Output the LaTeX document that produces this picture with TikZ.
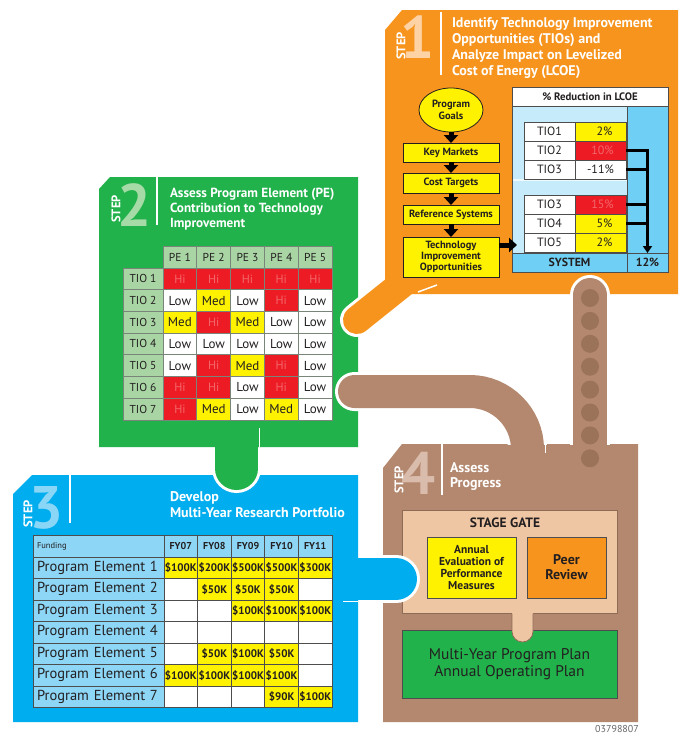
\documentclass[tikz,border=0pt]{standalone}
\usepackage{fontspec}
\setmainfont{PT Sans}
\usetikzlibrary{shapes.geometric,arrows.meta}

\definecolor{orng}{HTML}{F7941D}
\definecolor{grn}{HTML}{22B24C}
\definecolor{blu}{HTML}{00AEEF}
\definecolor{brn}{HTML}{B4886F}
\definecolor{brndot}{HTML}{9B7359}
\definecolor{tan}{HTML}{EFC6A3}
\definecolor{peach}{HTML}{FDD3A6}
\definecolor{mint}{HTML}{A6DBA8}
\definecolor{sky}{HTML}{8AD6F7}
\definecolor{mocha}{HTML}{D9BCAB}
\definecolor{yel}{HTML}{FFF200}
\definecolor{hired}{HTML}{ED1C24}
\definecolor{hitext}{HTML}{F2676B}
\definecolor{lgreen}{HTML}{A9D5A5}
\definecolor{lblue}{HTML}{8DD6F6}
\definecolor{paleblue}{HTML}{C6EBFA}
\definecolor{midblue}{HTML}{6FCFF4}
\definecolor{ink}{HTML}{231F20}
\definecolor{gridgray}{HTML}{7A857A}
\definecolor{edgegray}{HTML}{4D4D4D}
\definecolor{sgedge}{HTML}{8C6B57}

\begin{document}
\begin{tikzpicture}[x=1pt,y=-1pt,
  every node/.style={inner sep=0pt,outer sep=0pt},
  paneltitle/.style 2 args={anchor=north west,align=left,text=white,font=\bfseries\fontsize{#1}{#2}\selectfont},
  steplbl/.style={rotate=90,text=white,font=\bfseries\fontsize{12.5}{12.5}\selectfont},
  stepnum/.style={font=\bfseries\fontsize{60}{60}\selectfont,text height=43pt,text depth=0pt},
  sep/.style={white,line width=1.5pt},
  box4/.style={draw=edgegray,line width=0.8pt,align=center,text=ink},
  fbox/.style={draw=ink,fill=yel,line width=0.8pt,minimum width=96pt,align=center,text=ink,font=\bfseries\fontsize{10.5}{11}\selectfont},
  fat/.style={line width=5pt,black,-{Triangle[width=14pt,length=8pt]}},
  coll/.style={line width=2.2pt,black},
  tb/.style={draw=edgegray,line width=0.8pt,text=ink,font=\bfseries\fontsize{11.8}{11.8}\selectfont},
  tcell/.style={draw=edgegray,line width=0.8pt,minimum width=51pt,minimum height=19pt,text=ink,font=\fontsize{12}{12}\selectfont},
  gcell/.style={draw=gridgray,line width=0.8pt,minimum width=33.8pt,minimum height=21.7pt,text=ink,font=\fontsize{13}{13}\selectfont},
  cHi/.style={gcell,fill=hired,text=hitext,font=\fontsize{12}{12}\selectfont,node contents=Hi},
  cMed/.style={gcell,fill=yel,node contents=Med},
  cLow/.style={gcell,fill=white,node contents=Low},
  s3lab/.style={draw=edgegray,line width=0.8pt,fill=lblue,minimum width=131pt,text width=123pt,align=left,text=ink},
  s3cell/.style={draw=edgegray,line width=0.8pt,minimum width=33.6pt,minimum height=21.5pt,text=ink,font=\bfseries\fontsize{11}{11}\selectfont},
  fy/.style={fill=yel},
  fw/.style={fill=white}]

\useasboundingbox (0,0) rectangle (678,734);
\fill[white] (0,0) rectangle (678,734);

% ================= Step 4: assess progress =================
\fill[brn] (402,444) -- (638,444) -- (638,722) -- (383,722) -- (383,468) -- cycle;
\node[stepnum,text=mocha] (n4) at (418.5,472.5) {4};
\node[steplbl] (s4) at (399,480) {STEP};
\draw[sep] (442,444) -- (442,495);
\node[paneltitle={14}{15}] (t4) at (450,463) {Assess\\Progress};

\node[draw=sgedge,fill=tan,line width=0.8pt,minimum width=215pt,minimum height=103pt] (gate) at (509.5,561.5) {};
\node[font=\bfseries\fontsize{13.5}{13.5}\selectfont,text=ink] (gatelbl) at (505,522.5) {STAGE GATE};
\node[box4,fill=yel,minimum width=89pt,minimum height=61pt,font=\bfseries\fontsize{11.5}{12.3}\selectfont] (annual) at (471.5,567.5) {Annual\\Evaluation of\\Performance\\Measures};
\node[box4,fill=orng,minimum width=79pt,minimum height=61pt,font=\bfseries\fontsize{14}{15}\selectfont] (peer) at (566.5,567.5) {Peer\\Review};
\node[box4,fill=grn,minimum width=215pt,minimum height=68pt,font=\fontsize{15.5}{17.5}\selectfont] (plan) at (509.5,664) {Multi-Year Program Plan\\Annual Operating Plan};
% neck from the stage gate down into the plan box
\fill[tan] (512,611) -- (512,631.5) .. controls (512,637.3) and (516.7,642) .. (522.5,642)
  .. controls (528.3,642) and (533,637.3) .. (533,631.5) -- (533,611) -- cycle;
\draw[sgedge,line width=0.8pt] (512,613.5) -- (512,631.5) .. controls (512,637.3) and (516.7,642) .. (522.5,642)
  .. controls (528.3,642) and (533,637.3) .. (533,631.5) -- (533,613.5);
\node[text=gray!80!black,font=\fontsize{10}{10}\selectfont] (code) at (617,729) {03798807};

% ================= blue tab into stage gate =================
\begin{scope}
  \clip (358,0) rectangle (678,734);
  \draw[white,line width=48pt,line cap=round] (340,579) -- (396,579);
\end{scope}
\draw[blu,line width=42pt,line cap=round] (340,579) -- (396,579);

% ================= Step 3: research portfolio =================
\fill[blu] (32,475) -- (358,475) -- (358,722) -- (13,722) -- (13,494) -- cycle;
\draw[white,line width=1.5pt] (343,601.5) -- (358,601.5);
\node[stepnum,text=sky] (n3) at (46.5,507) {3};
\node[steplbl] (s3) at (28,514) {STEP};
\draw[sep] (70,475) -- (70,523);
\node[paneltitle={14}{16}] (t3) at (170,492) {Develop\\Multi-Year Research Portfolio};

\node[s3lab,minimum height=22pt,font=\fontsize{8.5}{8.5}\selectfont] (fund) at (98.5,546) {Funding};
\foreach \yr [count=\c] in {07,08,09,10,11}
  \node[s3cell,fill=lblue,minimum height=22pt,font=\bfseries\fontsize{10}{10}\selectfont] (fy\c) at ({180.8+33.6*(\c-1)},546) {FY\yr};
\foreach \row [count=\r] in {
  {y/\$100K,y/\$200K,y/\$500K,y/\$500K,y/\$300K},
  {w/,y/\$50K,y/\$50K,y/\$50K,w/},
  {w/,w/,y/\$100K,y/\$100K,y/\$100K},
  {w/,w/,w/,w/,w/},
  {w/,y/\$50K,y/\$100K,y/\$50K,w/},
  {y/\$100K,y/\$100K,y/\$100K,y/\$100K,w/},
  {w/,w/,w/,y/\$90K,y/\$100K}} {
  \node[s3lab,minimum height=21.5pt,font=\fontsize{14.5}{14.5}\selectfont] (pe\r) at (98.5,{567.75+21.5*(\r-1)}) {\mbox{Program Element \r}};
  \foreach \fl/\amt [count=\c] in \row
    \node[s3cell,f\fl] (pe\r-\c) at ({180.8+33.6*(\c-1)},{567.75+21.5*(\r-1)}) {\amt};
}

% ================= green tab into step 3 =================
\begin{scope}
  \clip (0,447) rectangle (678,734);
  \draw[white,line width=49pt,line cap=round] (236.5,440) -- (236.5,468.5);
\end{scope}
\draw[grn,line width=43pt,line cap=round] (236.5,440) -- (236.5,468.5);

% ================= Step 2: program element contribution =================
\fill[grn] (110,177) -- (358,177) -- (358,447) -- (99,447) -- (99,189) -- cycle;
\draw[white,line width=1.5pt] (259.5,428) -- (259.5,447);
\node[stepnum,text=mint] (n2) at (135,205) {2};
\node[steplbl] (s2) at (116,209) {STEP};
\draw[sep] (157,177) -- (157,225);
\node[paneltitle={13.2}{15}] (t2) at (170,188.5) {Assess Program Element (PE)\\Contribution to Technology\\Improvement};

\foreach \c in {1,...,5}
  \node[gcell,fill=lgreen,minimum height=22pt,font=\fontsize{11.5}{11.5}\selectfont] (peh\c) at ({179.9+33.8*(\c-1)},257) {PE \c};
\foreach \row [count=\r] in {
  {cHi,cHi,cHi,cHi,cHi},
  {cLow,cMed,cLow,cHi,cLow},
  {cMed,cHi,cMed,cLow,cLow},
  {cLow,cLow,cLow,cLow,cLow},
  {cLow,cHi,cMed,cHi,cLow},
  {cHi,cHi,cLow,cHi,cLow},
  {cHi,cMed,cLow,cMed,cLow}} {
  \node[gcell,fill=lgreen,minimum width=40pt,font=\fontsize{11.5}{11.5}\selectfont] (tio\r) at (143,{278.85+21.7*(\r-1)}) {TIO \r};
  \foreach \lv [count=\c] in \row
    \node (g\r-\c) at ({179.9+33.8*(\c-1)},{278.85+21.7*(\r-1)}) [\lv];
}

% ================= orange tab and brown return pipe =================
\begin{scope}
  \clip (0,0) -- (385,0) -- (385,294) -- (678,294) -- (678,734) -- (0,734) -- cycle;
  \draw[white,line width=34pt,line cap=round] (357,320) -- (412,276);
\end{scope}
\draw[orng,line width=28pt,line cap=round] (357,320) -- (412,276);

\begin{scope}
  \clip (0,0) rectangle (678,444);
  \draw[white,line width=39pt,line cap=round] (354.5,391.5) -- (470,391.5)
    .. controls (501.5,391.5) and (527.5,417.5) .. (527.5,449) -- (527.5,460);
\end{scope}
\draw[brn,line width=33pt,line cap=round] (354.5,391.5) -- (470,391.5)
  .. controls (501.5,391.5) and (527.5,417.5) .. (527.5,449) -- (527.5,460);
\draw[white,line width=1.5pt] (545.5,444) -- (545.5,453);

% ================= Step 1: TIOs and LCOE =================
\fill[orng] (402,10) -- (678,10) -- (678,294) -- (385,294) -- (385,30) -- cycle;
\draw[white,line width=1.5pt] (418,292) -- (437,285);
\node[stepnum,text=peach] (n1) at (417.5,36.5) {1};
\node[steplbl] (s1) at (401,46) {STEP};
\draw[sep] (441,12) -- (441,75);
\node[paneltitle={14}{16}] (t1) at (452,18) {Identify Technology Improvement\\Opportunities (TIOs) and\\Analyze Impact on Levelized\\Cost of Energy (LCOE)};

% flow of goals to opportunities
\node[ellipse,draw=ink,fill=yel,line width=0.8pt,minimum width=64pt,minimum height=44pt,align=center,text=ink,font=\bfseries\fontsize{10.5}{12}\selectfont] (goals) at (451,110) {Program\\Goals};
\node[fbox,minimum height=19pt] (km) at (451,152.5) {Key Markets};
\node[fbox,minimum height=20pt] (ct) at (451,183) {Cost Targets};
\node[fbox,minimum height=19pt] (rs) at (451,214.5) {Reference Systems};
\node[fbox,minimum height=40pt] (opp) at (451,257) {Technology\\Improvement\\Opportunities};
\draw[fat] (goals) -- (km);
\draw[fat] (km) -- (ct);
\draw[fat] (ct) -- (rs);
\draw[fat] (rs) -- (opp);

% LCOE reduction table
\node[tb,fill=white,minimum width=156pt,minimum height=19pt,font=\bfseries\fontsize{10.8}{10.8}\selectfont] (lhdr) at (590,96.5) {\% Reduction in LCOE};
\node[tb,fill=paleblue,minimum width=115pt,minimum height=147pt] (lbody) at (569.5,179.5) {};
\node[tb,fill=midblue,minimum width=41pt,minimum height=147pt] (rbody) at (647.5,179.5) {};
\node[tb,fill=midblue,minimum width=115pt,minimum height=19pt] (lsys) at (569.5,262.5) {SYSTEM};
\node[tb,fill=midblue,minimum width=41pt,minimum height=19pt] (rsys) at (647.5,262.5) {12\%};
\draw[white!70!paleblue,line width=1.2pt] (512.5,180) -- (626.5,180);

\node[tcell,fill=white] (l1) at (549.5,131.5) {TIO1};
\node[tcell,fill=yel] (v1) at (600.5,131.5) {\hspace{8pt}2\%};
\node[tcell,fill=white] (l2) at (549.5,150.5) {TIO2};
\node[tcell,fill=hired,text=hitext] (v2) at (600.5,150.5) {\hspace{4pt}10\%};
\node[tcell,fill=white] (l3) at (549.5,169.5) {TIO3};
\node[tcell,fill=white] (v3) at (600.5,169.5) {-11\%};
\node[tcell,fill=white] (l4) at (549.5,204.5) {TIO3};
\node[tcell,fill=hired,text=hitext] (v4) at (600.5,204.5) {\hspace{4pt}15\%};
\node[tcell,fill=white] (l5) at (549.5,223.5) {TIO4};
\node[tcell,fill=yel] (v5) at (600.5,223.5) {\hspace{8pt}5\%};
\node[tcell,fill=white] (l6) at (549.5,242.5) {TIO5};
\node[tcell,fill=yel] (v6) at (600.5,242.5) {\hspace{8pt}2\%};

\coordinate (oppin) at (517,245);
\draw[fat] (opp.east |- oppin) -- (oppin);

\draw[coll,-{Triangle[width=9pt,length=7pt]}] (v2.east) -- (v2.east -| rbody.center) -- (rsys.north);
\draw[coll] (v3.east) -- (v3.east -| rbody.center);
\draw[coll] (v4.east) -- (v4.east -| rbody.center);
\draw[coll] (v5.east) -- (v5.east -| rbody.center);

% ================= dotted pipe from step 1 down to step 4 =================
\begin{scope}
  \clip (0,0) rectangle (678,444);
  \draw[white,line width=40pt,line cap=round] (590,295) -- (590,470);
\end{scope}
\draw[brn,line width=34pt,line cap=round] (590,295) -- (590,460);
\foreach \k in {0,...,7}
  \fill[brndot] (590,{298+22.9*\k}) circle (9pt);

\end{tikzpicture}
\end{document}
